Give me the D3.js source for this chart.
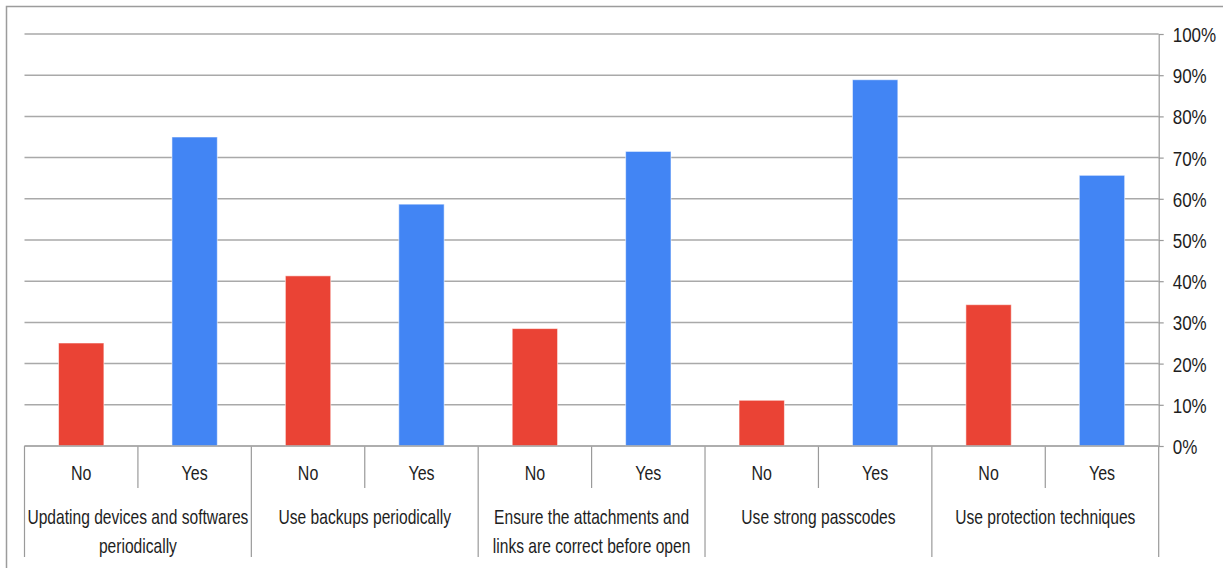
<!DOCTYPE html>
<html>
<head>
<meta charset="utf-8">
<script src="https://cdn.jsdelivr.net/npm/d3@7"></script>
<style>
  html, body { margin: 0; padding: 0; background: #fff; }
  svg { display: block; }
  text { font-family: "Liberation Sans", Arial, sans-serif; fill: #1e1e1e; }
</style>
</head>
<body>
<svg id="chart" width="1223" height="568"></svg>
<script>
// Survey practices, each split into No / Yes shares (percent)
const practices = [
  "Updating devices and softwares\nperiodically",
  "Use backups periodically",
  "Ensure the attachments and\nlinks are correct before open",
  "Use strong passcodes",
  "Use protection techniques"
];
const answers = ["No", "Yes"];
const noValues  = [25, 41.3, 28.5, 11.1, 34.3];
const yesValues = [75, 58.7, 71.5, 88.9, 65.7];
const yTicks = [0, 10, 20, 30, 40, 50, 60, 70, 80, 90, 100];
const answerColors = { No: "#EA4335", Yes: "#4285F4" };

const svg = d3.select("#chart");
const plot = { left: 24.5, right: 1158.7, top: 34, bottom: 446 };
const subLabelY = 473;      // No / Yes row
const groupLabelY = 517;    // practice names
const shortTickEnd = 488;
const longTickEnd = 557;

// flat list of bars: one per (practice, answer)
const bars = [];
practices.forEach((p, i) => {
  bars.push({ key: i + "|No", group: i, answer: "No", value: noValues[i] });
  bars.push({ key: i + "|Yes", group: i, answer: "Yes", value: yesValues[i] });
});

const x = d3.scaleBand()
  .domain(bars.map(d => d.key))
  .range([plot.left, plot.right])
  .paddingInner(0.6)
  .paddingOuter(0.3);

const y = d3.scaleLinear().domain([0, 100]).range([plot.bottom, plot.top]);

// outer frame (top and left edges)
svg.append("path")
  .attr("d", "M6.5,568 L6.5,6.5 L1223,6.5")
  .attr("fill", "none")
  .attr("stroke", "#9c9c9c")
  .attr("stroke-width", 1.5);

// horizontal gridlines
svg.append("g").selectAll("line")
  .data(yTicks)
  .join("line")
  .attr("x1", plot.left)
  .attr("x2", plot.right)
  .attr("y1", d => y(d))
  .attr("y2", d => y(d))
  .attr("stroke", "#a9a9a9")
  .attr("stroke-width", 1.5);

// bars
svg.append("g").selectAll("rect")
  .data(bars)
  .join("rect")
  .attr("x", d => x(d.key))
  .attr("width", x.bandwidth())
  .attr("y", d => y(d.value))
  .attr("height", d => y(0) - y(d.value))
  .attr("fill", d => answerColors[d.answer])
  .attr("stroke", "rgba(255,255,255,0.55)")
  .attr("stroke-width", 1);

// right value axis
const yAxis = svg.append("g")
  .attr("transform", `translate(${plot.right},0)`)
  .call(d3.axisRight(y)
    .tickValues(yTicks)
    .tickFormat(d => d + "%")
    .tickSizeInner(5)
    .tickSizeOuter(0)
    .tickPadding(9));
yAxis.select(".domain").attr("stroke", "#9a9a9a").attr("stroke-width", 1.2);
yAxis.selectAll(".tick line").attr("stroke", "#9a9a9a").attr("stroke-width", 1.2);
yAxis.selectAll(".tick text")
  .attr("font-size", 21)
  .attr("fill", "#1e1e1e")
  .attr("dy", "0.36em")
  .attr("x", null)
  .each(function() {
    d3.select(this).attr("transform", "translate(14,0) scale(0.81,1)");
  });

// category axis divider lines
const step = x.step();
const x0 = x.range()[0];
const boundaries = d3.range(bars.length + 1).map(i => ({
  pos: x0 + i * step,
  isGroupEdge: i % answers.length === 0
}));
svg.append("g").selectAll("line")
  .data(boundaries)
  .join("line")
  .attr("x1", d => d.pos)
  .attr("x2", d => d.pos)
  .attr("y1", plot.bottom)
  .attr("y2", d => d.isGroupEdge ? longTickEnd : shortTickEnd)
  .attr("stroke", "#9a9a9a")
  .attr("stroke-width", 1.2);

// zero line over the bar bases
svg.append("line")
  .attr("x1", plot.left)
  .attr("x2", plot.right)
  .attr("y1", y(0))
  .attr("y2", y(0))
  .attr("stroke", "#a9a9a9")
  .attr("stroke-width", 1.5);

// No / Yes labels
svg.append("g").selectAll("text")
  .data(bars)
  .join("text")
  .attr("transform", d => `translate(${x(d.key) + x.bandwidth() / 2},${subLabelY}) scale(0.8,1)`)
  .attr("text-anchor", "middle")
  .attr("dy", "0.36em")
  .attr("font-size", 20)
  .text(d => d.answer);

// practice labels (centred under each pair)
const groupText = svg.append("g").selectAll("text")
  .data(practices)
  .join("text")
  .attr("transform", (d, i) => {
    const cx = x0 + (i * answers.length + answers.length / 2) * step;
    return `translate(${cx},${groupLabelY}) scale(0.78,1)`;
  })
  .attr("text-anchor", "middle")
  .attr("font-size", 20);
groupText.each(function(d) {
  const lines = d.split("\n");
  d3.select(this).selectAll("tspan")
    .data(lines)
    .join("tspan")
    .attr("x", 0)
    .attr("y", (l, j) => j * 28.5)
    .attr("dy", "0.36em")
    .text(l => l);
});
</script>
</body>
</html>
